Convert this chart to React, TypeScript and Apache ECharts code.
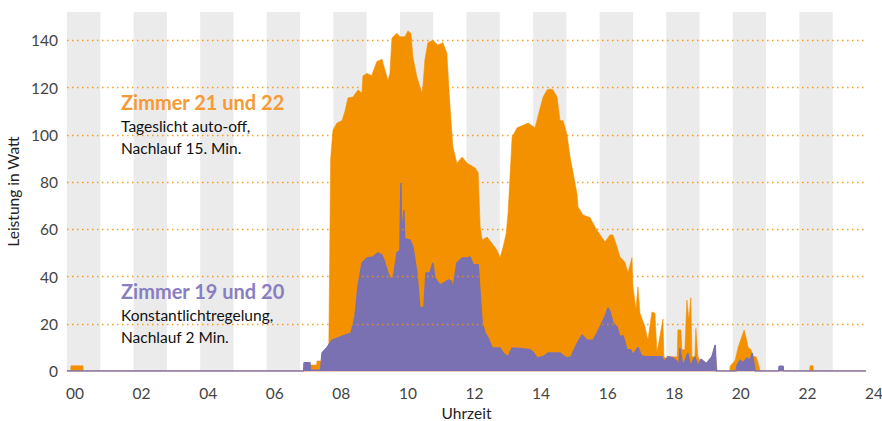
import React, { useEffect, useRef } from "react";
import * as echarts from "echarts";

// Time of day in hours, power in watts
const orangeTimes = [0, 0.11, 0.12, 0.48, 0.49, 7.31, 7.32, 7.5, 7.51, 7.86, 7.92, 7.99, 8.11, 8.26, 8.35, 8.44, 8.59, 8.74, 8.86, 8.89, 9.01, 9.16, 9.19, 9.31, 9.46, 9.52, 9.64, 9.7, 9.76, 9.91, 10.0, 10.15, 10.24, 10.33, 10.39, 10.51, 10.66, 10.69, 10.75, 10.84, 10.99, 11.14, 11.29, 11.41, 11.5, 11.59, 11.71, 11.87, 12.02, 12.26, 12.35, 12.41, 12.47, 12.62, 12.77, 12.92, 13.01, 13.1, 13.19, 13.25, 13.37, 13.52, 13.7, 13.85, 14.06, 14.15, 14.3, 14.42, 14.51, 14.6, 14.72, 14.81, 14.9, 15.02, 15.11, 15.2, 15.32, 15.35, 15.5, 15.71, 15.86, 15.95, 16.16, 16.31, 16.4, 16.52, 16.61, 16.76, 16.85, 16.97, 17.0, 17.09, 17.15, 17.21, 17.36, 17.45, 17.57, 17.66, 17.72, 17.75, 17.9, 17.93, 18.02, 18.05, 18.2, 18.33, 18.35, 18.44, 18.47, 18.56, 18.62, 18.68, 18.74, 18.77, 18.86, 18.89, 18.95, 19.01, 19.22, 19.37, 19.47, 19.53, 19.91, 19.92, 20.07, 20.16, 20.28, 20.34, 20.4, 20.46, 20.55, 20.61, 20.7, 20.76, 20.82, 22.31, 22.32, 22.41, 22.42, 24];
const orangeValues = [0, 0, 2.2, 2.2, 0, 0, 2.5, 2.5, 4.2, 4.2, 90, 102, 105, 106, 110, 115.6, 116, 119, 117.7, 125, 126, 125, 126.6, 131, 132, 129, 123, 126, 141, 143, 141.5, 141.5, 144, 143, 133, 124.5, 117.7, 120, 131.7, 139, 140, 138, 139, 134.6, 113, 95, 88, 90.6, 88, 86, 84, 61, 55.5, 56.7, 54, 51, 48, 52.5, 58, 67, 99, 103, 104, 105, 103, 108, 116, 119, 119.4, 119, 116, 106, 106, 100, 90.6, 84, 75, 69.5, 66, 65, 61, 59, 54.6, 57.6, 57.6, 52.5, 48.3, 46, 41.5, 48, 35.6, 26, 35.6, 24.5, 18.7, 13, 25, 24.5, 8, 10, 22, 6, 5, 6, 6, 6, 17.4, 17.4, 9, 9, 30, 21.6, 31, 6, 6, 18, 6, 4.6, 3.4, 4.6, 8, 0, 0, 2, 4.6, 10, 15, 17.4, 14, 10, 9, 6, 6, 3.4, 0, 0, 2.2, 2.2, 0, 0];

const purpleTimes = [0, 7.11, 7.12, 7.3, 7.31, 7.62, 7.66, 7.81, 7.96, 8.14, 8.35, 8.53, 8.65, 8.74, 8.86, 9.01, 9.19, 9.34, 9.46, 9.52, 9.64, 9.73, 9.82, 9.91, 10.0, 10.03, 10.05, 10.12, 10.14, 10.3, 10.39, 10.51, 10.6, 10.72, 10.78, 10.9, 10.99, 11.05, 11.2, 11.35, 11.45, 11.55, 11.59, 11.71, 11.87, 12.02, 12.11, 12.2, 12.35, 12.47, 12.56, 12.65, 12.77, 13.01, 13.1, 13.25, 13.37, 13.61, 13.91, 14.0, 14.12, 14.3, 14.45, 14.81, 14.9, 15.02, 15.15, 15.2, 15.35, 15.47, 15.62, 15.8, 15.92, 16.01, 16.16, 16.25, 16.31, 16.4, 16.52, 16.61, 16.7, 16.82, 16.93, 17.0, 17.15, 17.25, 17.36, 17.87, 17.93, 18.05, 18.2, 18.33, 18.38, 18.41, 18.5, 18.65, 18.72, 18.86, 18.95, 19.05, 19.2, 19.37, 19.47, 19.5, 20.1, 20.13, 20.22, 20.3, 20.43, 20.52, 20.58, 20.65, 20.67, 21.38, 21.39, 21.51, 21.52, 24];
const purpleValues = [0, 0, 3.5, 3.5, 0.3, 0.3, 7.6, 10, 13, 14, 15.2, 16, 23, 35.6, 45.7, 47.8, 48.3, 50, 49, 47, 41.5, 38.5, 41, 50, 51, 79.6, 55.5, 68, 56, 55.5, 52.5, 41.5, 27, 26.7, 41.5, 41.5, 45.7, 39.4, 36.4, 37.5, 38.5, 38, 34, 45.7, 47.8, 47.8, 48.3, 45, 45, 20.3, 16, 14, 9.7, 9.7, 7.6, 6, 9.7, 9.5, 9, 8, 5.5, 6, 7.6, 7.6, 6.5, 5.5, 6, 8, 12.3, 15.2, 13, 13, 16, 18.6, 23, 26.7, 25, 20.3, 18.6, 14.4, 15, 9, 9, 6.8, 10, 6.5, 6, 6, 4, 6, 5.5, 4, 0.5, 9.7, 2, 7.6, 2, 6, 2, 5, 3, 6, 11, 0, 0, 2.5, 4.6, 3.5, 5.5, 4.5, 7.6, 2, 0, 0, 2, 2, 0, 0];

const xTicks = [0, 2, 4, 6, 8, 10, 12, 14, 16, 18, 20, 22, 24];
const yGridValues = [20, 40, 60, 80, 100, 120, 140];
const shadedHours = [0, 2, 4, 6, 8, 10, 12, 14, 16, 18, 20, 22];

const seriesOrange = "Zimmer 21 und 22";
const seriesPurple = "Zimmer 19 und 20";

const ORANGE = "#F39100";
const PURPLE = "#7A71B2";
const FONT = "Lato";

export default function App() {
  const ref = useRef<HTMLDivElement>(null);
  useEffect(() => {
    if (!ref.current) return;
    const chart = echarts.init(ref.current, undefined, { renderer: "svg" });
    const orangeData = orangeTimes.map((t, i) => [t, orangeValues[i]]);
    const purpleData = purpleTimes.map((t, i) => [t, purpleValues[i]]);
    chart.setOption({
      animation: false,
      backgroundColor: "#ffffff",
      textStyle: { fontFamily: FONT },
      grid: { left: 67, right: 16, top: 12, bottom: 50, containLabel: false, outerBoundsMode: "none" },
      xAxis: {
        type: "value",
        min: 0,
        max: 24,
        interval: 2,
        name: "Uhrzeit",
        nameLocation: "middle",
        nameGap: 34,
        nameMoveOverlap: false,
        nameTextStyle: { fontFamily: FONT, fontSize: 15.5, color: "#222" },
        axisLine: { show: true, lineStyle: { color: "#ecc9b8", width: 1 } },
        axisTick: { show: false },
        splitLine: { show: false },
        axisLabel: {
          fontFamily: FONT,
          fontSize: 15.5,
          color: "#444",
          margin: 14,
          padding: [0, 0, 0, 16],
          showMaxLabel: true,
          formatter: (v: number) => (xTicks.includes(v) ? String(v).padStart(2, "0") : ""),
        },
      },
      yAxis: {
        type: "value",
        min: 0,
        max: 152,
        interval: 20,
        name: "Leistung in Watt",
        nameLocation: "middle",
        nameGap: 46,
        nameRotate: 90,
        nameMoveOverlap: false,
        nameTextStyle: { fontFamily: FONT, fontSize: 15.5, color: "#222", padding: [0, 0, 0, 0] },
        axisLine: { show: false },
        axisTick: { show: false },
        splitLine: { show: false },
        axisLabel: {
          fontFamily: FONT,
          fontSize: 15.5,
          color: "#444",
          margin: 9,
          showMaxLabel: false,
          formatter: (v: number) => (v % 20 === 0 ? String(v) : ""),
        },
      },
      series: [
        {
          type: "line",
          name: "bg",
          z: 1,
          silent: true,
          symbol: "none",
          data: [[0, 0], [24, 0]],
          lineStyle: { opacity: 0, width: 0 },
          markArea: {
            silent: true,
            itemStyle: { color: "#ebebeb" },
            data: shadedHours.map((h) => [{ xAxis: h }, { xAxis: h + 1 }]),
          },
          markLine: {
            silent: true,
            symbol: "none",
            label: { show: false },
            lineStyle: { color: ORANGE, type: [1.5, 3.5], width: 1.3, opacity: 0.85 },
            data: yGridValues.map((v) => ({ yAxis: v })),
          },
        },
        {
          type: "line",
          name: seriesOrange,
          z: 3,
          symbol: "none",
          data: orangeData,
          lineStyle: { color: ORANGE, width: 0.6 },
          itemStyle: { color: ORANGE },
          areaStyle: { color: ORANGE, opacity: 1 },
        },
        {
          type: "line",
          name: seriesPurple,
          z: 4,
          symbol: "none",
          data: purpleData,
          lineStyle: { color: PURPLE, width: 1.5 },
          itemStyle: { color: PURPLE },
          areaStyle: { color: PURPLE, opacity: 1 },
        },
      ],
      graphic: [
        { type: "text", x: 121, y: 102, z: 10, style: { text: seriesOrange, fill: "#F59A34", font: `bold 20px ${FONT}`, verticalAlign: "middle" } },
        { type: "text", x: 121, y: 126, z: 10, style: { text: "Tageslicht auto-off,", fill: "#111", font: `15.5px ${FONT}`, verticalAlign: "middle" } },
        { type: "text", x: 121, y: 148, z: 10, style: { text: "Nachlauf 15. Min.", fill: "#111", font: `15.5px ${FONT}`, verticalAlign: "middle" } },
        { type: "text", x: 121, y: 291, z: 10, style: { text: seriesPurple, fill: "#8A7EC2", font: `bold 20px ${FONT}`, verticalAlign: "middle" } },
        { type: "text", x: 121, y: 315, z: 10, style: { text: "Konstantlichtregelung,", fill: "#111", font: `15.5px ${FONT}`, verticalAlign: "middle" } },
        { type: "text", x: 121, y: 337, z: 10, style: { text: "Nachlauf 2 Min.", fill: "#111", font: `15.5px ${FONT}`, verticalAlign: "middle" } },
      ],
    });
    return () => chart.dispose();
  }, []);
  return <div ref={ref} style={{ width: 882, height: 421, position: "absolute", left: 0, top: 0 }} />;
}
